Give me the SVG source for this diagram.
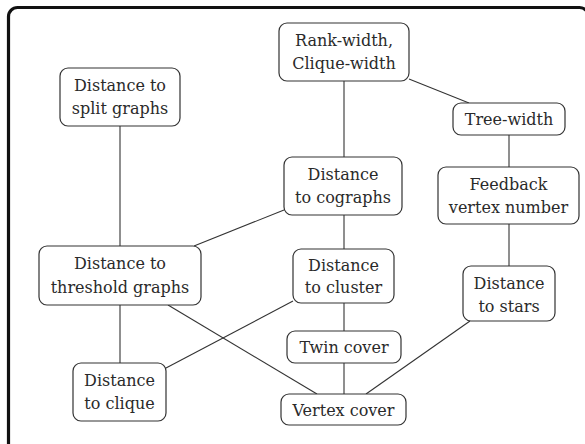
<svg xmlns="http://www.w3.org/2000/svg" width="585" height="444" viewBox="0 0 585 444">
<style>
.frame{fill:none;stroke:#111;stroke-width:3.2}
.node rect{fill:#fff;stroke:#333;stroke-width:1.2}
.node text{font-family:"DejaVu Serif","Liberation Serif",serif;font-size:16px;fill:#2a2a2a;text-anchor:middle}
#edges line{stroke:#333;stroke-width:1.1}
</style>
<rect class="frame" x="8.5" y="7.5" width="580" height="450" rx="9"/>
<g id="edges">
<line x1="344" y1="81" x2="344" y2="157"/>
<line x1="409" y1="79" x2="469" y2="103"/>
<line x1="509" y1="135" x2="509" y2="167"/>
<line x1="509" y1="224" x2="509" y2="266"/>
<line x1="120" y1="126" x2="120" y2="246"/>
<line x1="284" y1="210" x2="194" y2="246"/>
<line x1="344" y1="215" x2="344" y2="249"/>
<line x1="120" y1="305" x2="120" y2="363"/>
<line x1="168" y1="305" x2="317" y2="394"/>
<line x1="293" y1="301" x2="166" y2="368"/>
<line x1="344" y1="303" x2="344" y2="331"/>
<line x1="344" y1="363" x2="344" y2="394"/>
<line x1="470" y1="321" x2="366" y2="394"/>
</g>
<g id="rankwidth" class="node"><rect x="279" y="23" width="130" height="58" rx="8"/><text x="344" y="45.5">Rank-width,</text><text x="344" y="68.5">Clique-width</text></g>
<g id="treewidth" class="node"><rect x="453" y="103" width="112" height="32" rx="8"/><text x="509" y="125">Tree-width</text></g>
<g id="cographs" class="node"><rect x="284" y="157" width="118" height="58" rx="8"/><text x="343" y="179.5">Distance</text><text x="343" y="202.5">to cographs</text></g>
<g id="feedback" class="node"><rect x="438" y="167" width="141" height="57" rx="8"/><text x="508.5" y="189.5">Feedback</text><text x="508.5" y="212.5">vertex number</text></g>
<g id="split" class="node"><rect x="60" y="68" width="120" height="58" rx="8"/><text x="120" y="90.5">Distance to</text><text x="120" y="113.5">split graphs</text></g>
<g id="threshold" class="node"><rect x="39" y="246" width="162" height="59" rx="8"/><text x="120" y="269">Distance to</text><text x="120" y="292.5">threshold graphs</text></g>
<g id="clique" class="node"><rect x="73" y="363" width="93" height="58" rx="8"/><text x="119.5" y="385.5">Distance</text><text x="119.5" y="408.5">to clique</text></g>
<g id="cluster" class="node"><rect x="293" y="249" width="101" height="54" rx="8"/><text x="343.5" y="270.5">Distance</text><text x="343.5" y="292.5">to cluster</text></g>
<g id="stars" class="node"><rect x="463" y="266" width="92" height="55" rx="8"/><text x="509" y="288.5">Distance</text><text x="509" y="311.5">to stars</text></g>
<g id="twin" class="node"><rect x="287" y="331" width="114" height="32" rx="8"/><text x="344" y="353">Twin cover</text></g>
<g id="vertexcover" class="node"><rect x="281" y="394" width="125" height="31" rx="8"/><text x="343.5" y="415.5">Vertex cover</text></g>
</svg>
